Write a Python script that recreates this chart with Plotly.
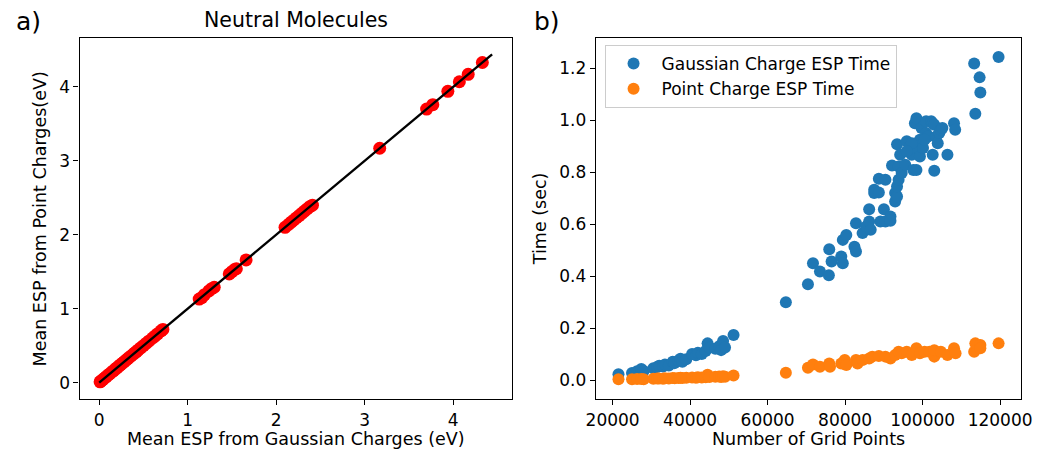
import plotly.graph_objects as go

# ---- Panel a) data ----
gauss_esp = [0.01, 0.02, 0.04, 0.06, 0.08, 0.10, 0.12, 0.14, 0.16, 0.18, 0.20, 0.22, 0.24,
             0.26, 0.28, 0.30, 0.32, 0.34, 0.36, 0.38, 0.40, 0.42, 0.44, 0.47, 0.50, 0.53,
             0.56, 0.60, 0.63, 0.66, 0.70, 0.72,
             1.13, 1.16, 1.19, 1.24, 1.27, 1.30,
             1.47, 1.50, 1.53, 1.55, 1.66,
             2.10, 2.14, 2.17, 2.20, 2.23, 2.26, 2.29, 2.32, 2.35, 2.38, 2.41,
             3.17, 3.70, 3.77, 3.94, 4.07, 4.17, 4.33]
point_esp = [0.01, 0.02, 0.04, 0.06, 0.08, 0.10, 0.12, 0.14, 0.16, 0.18, 0.20, 0.22, 0.24,
             0.26, 0.28, 0.30, 0.32, 0.34, 0.36, 0.38, 0.40, 0.42, 0.44, 0.47, 0.50, 0.53,
             0.56, 0.60, 0.63, 0.66, 0.70, 0.72,
             1.13, 1.15, 1.19, 1.24, 1.27, 1.29,
             1.47, 1.50, 1.53, 1.54, 1.66,
             2.10, 2.14, 2.17, 2.20, 2.23, 2.26, 2.29, 2.32, 2.35, 2.38, 2.40,
             3.17, 3.70, 3.76, 3.94, 4.07, 4.17, 4.33]
diag_line = [0.0, 4.44]

# ---- Panel b) data ----
gauss_grid = [21500, 25000, 26300, 27400, 28000, 30500, 31500, 32000, 33000, 33500, 34500,
              35500, 36000, 37000, 37500, 38000, 39000, 40500, 41500, 42000, 43000, 44000,
              44500, 45000, 46500, 47500, 48000, 48500, 49000, 51200,
              64700, 70400, 71700, 73500, 75900, 75800, 76500, 79000, 79400, 79400, 80300,
              82400, 82800, 82800, 84500, 85400, 86200, 86600, 86200, 87500, 87500, 88700,
              88700, 90400, 89100, 90400, 90000, 91700, 91700, 92100, 92900, 92900, 93400,
              93400, 93800, 93400, 93800, 94200, 94600, 95900, 95500, 96700, 97200, 97600,
              98400, 98000, 98000, 98400, 99300, 99700, 99300, 100100, 100900, 100900,
              101400, 102200, 102600, 102600, 103000, 103000, 103500, 103900, 104300,
              104700, 105100, 106400, 108100, 108400, 97200, 100500, 95900,
              113300, 113600, 114700, 114900, 119600]
gauss_time = [0.022, 0.027, 0.034, 0.042, 0.035, 0.045, 0.050, 0.055, 0.052, 0.060, 0.056,
              0.070, 0.065, 0.075, 0.082, 0.070, 0.080, 0.100, 0.095, 0.105, 0.100, 0.112,
              0.141, 0.125, 0.120, 0.130, 0.115, 0.150, 0.125, 0.173,
              0.299, 0.368, 0.449, 0.417, 0.503, 0.403, 0.456, 0.475, 0.449, 0.539, 0.558,
              0.513, 0.494, 0.603, 0.565, 0.590, 0.610, 0.578, 0.657, 0.732, 0.719, 0.721,
              0.774, 0.770, 0.610, 0.610, 0.657, 0.629, 0.613, 0.825, 0.719, 0.687, 0.706,
              0.744, 0.770, 0.907, 0.821, 0.866, 0.796, 0.918, 0.828, 0.898, 0.866, 0.808,
              0.808, 0.892, 0.988, 1.007, 0.924, 0.969, 0.860, 0.892, 0.995, 0.950,
              0.937, 0.995, 0.988, 0.866, 0.805, 0.982, 0.937, 0.911, 0.950,
              0.963, 0.969, 0.866, 0.988, 0.963, 0.911, 0.924, 0.880,
              1.217, 1.024, 1.164, 1.106, 1.242]

point_grid = [21500, 25000, 26300, 27400, 28000, 30500, 31500, 32000, 33000, 33500, 34500,
              35500, 36000, 37000, 37500, 38000, 39000, 40500, 41500, 42000, 43000, 44000,
              44500, 45000, 46500, 47500, 48000, 48500, 49000, 51200,
              64700, 70400, 71700, 73500, 75900, 76100, 79000, 79900, 80300, 82800, 83200,
              84500, 86200, 87000, 88700, 90400, 91700, 92900, 93800, 94600, 95900, 97200,
              98400, 99300, 100500, 101800, 103000, 103000, 104700, 106400, 108100, 108500,
              113300, 113600, 114900, 114900, 119600]
point_time = [0.003, 0.003, 0.004, 0.004, 0.003, 0.005, 0.006, 0.006, 0.005, 0.007, 0.006,
              0.008, 0.007, 0.008, 0.009, 0.008, 0.009, 0.010, 0.009, 0.011, 0.010, 0.011,
              0.020, 0.012, 0.013, 0.014, 0.012, 0.015, 0.013, 0.017,
              0.028, 0.047, 0.060, 0.051, 0.064, 0.051, 0.064, 0.077, 0.058, 0.077, 0.064,
              0.077, 0.083, 0.090, 0.092, 0.090, 0.083, 0.096, 0.109, 0.103, 0.109, 0.096,
              0.122, 0.103, 0.109, 0.109, 0.090, 0.115, 0.109, 0.096, 0.122, 0.103,
              0.109, 0.141, 0.135, 0.122, 0.141]

FONT = "DejaVu Sans"
BLUE = "#1f77b4"
ORANGE = "#ff7f0e"

fig = go.Figure()

fig.add_trace(go.Scatter(x=gauss_esp, y=point_esp, mode="markers",
                         marker=dict(color="red", size=13, line=dict(width=0)),
                         showlegend=False, xaxis="x", yaxis="y"))
fig.add_trace(go.Scatter(x=diag_line, y=diag_line, mode="lines",
                         line=dict(color="black", width=2.4),
                         showlegend=False, xaxis="x", yaxis="y"))

fig.add_trace(go.Scatter(x=gauss_grid, y=gauss_time, mode="markers",
                         name="Gaussian Charge ESP Time",
                         marker=dict(color=BLUE, size=12, line=dict(width=0)),
                         xaxis="x2", yaxis="y2"))
fig.add_trace(go.Scatter(x=point_grid, y=point_time, mode="markers",
                         name="Point Charge ESP Time",
                         marker=dict(color=ORANGE, size=12, line=dict(width=0)),
                         xaxis="x2", yaxis="y2"))

axis_common = dict(showline=True, linecolor="black", linewidth=1.2, mirror=True,
                   ticks="outside", ticklen=5, tickwidth=1.2, tickcolor="black",
                   showgrid=False, zeroline=False,
                   tickfont=dict(family=FONT, size=17, color="black"))

fig.update_layout(
    width=1050, height=450,
    margin=dict(l=0, r=0, t=0, b=0),
    paper_bgcolor="white", plot_bgcolor="white",
    font=dict(family=FONT, color="black"),
    xaxis=dict(domain=[0.0676, 0.4876], range=[-0.222, 4.662],
               tickvals=[0, 1, 2, 3, 4], anchor="y", **axis_common),
    yaxis=dict(domain=[0.1133, 0.9156], range=[-0.222, 4.662],
               tickvals=[0, 1, 2, 3, 4], anchor="x", **axis_common),
    xaxis2=dict(domain=[0.5692, 0.9826], range=[15626, 125411],
                tickvals=[20000, 40000, 60000, 80000, 100000, 120000],
                ticktext=["20000", "40000", "60000", "80000", "100000", "120000"],
                anchor="y2", **axis_common),
    yaxis2=dict(domain=[0.1133, 0.9156], range=[-0.073, 1.3155],
                tickvals=[0, 0.2, 0.4, 0.6, 0.8, 1.0, 1.2],
                ticktext=["0.0", "0.2", "0.4", "0.6", "0.8", "1.0", "1.2"],
                anchor="x2", **axis_common),
    legend=dict(x=0.5778, y=0.9, xanchor="left", yanchor="top",
                bgcolor="rgba(255,255,255,0.8)", bordercolor="#cccccc", borderwidth=1,
                font=dict(family=FONT, size=17, color="black"),
                itemwidth=46, tracegroupgap=0),
)

annots = [
    dict(text="a)", x=4, y=22, size=25),
    dict(text="b)", x=533, y=22, size=25),
]
for a in annots:
    fig.add_annotation(text=a["text"], x=a["x"] / 1050, y=1 - a["y"] / 450,
                       xref="paper", yref="paper", xanchor="left", yanchor="middle",
                       showarrow=False, font=dict(family=FONT, size=a["size"], color="black"))

fig.add_annotation(text="Neutral Molecules", x=(71 + 512) / 2 / 1050, y=1 - 20 / 450,
                   xref="paper", yref="paper", xanchor="center", yanchor="middle",
                   showarrow=False, font=dict(family=FONT, size=20.5, color="black"))
fig.add_annotation(text="Mean ESP from Gaussian Charges (eV)", x=(71 + 512) / 2 / 1050,
                   y=1 - 439 / 450, xref="paper", yref="paper", xanchor="center",
                   yanchor="middle", showarrow=False,
                   font=dict(family=FONT, size=17.5, color="black"))
fig.add_annotation(text="Number of Grid Points", x=(597.7 + 1031.7) / 2 / 1050,
                   y=1 - 439 / 450, xref="paper", yref="paper", xanchor="center",
                   yanchor="middle", showarrow=False,
                   font=dict(family=FONT, size=17.5, color="black"))
fig.add_annotation(text="Mean ESP from Point Charges(eV)", x=31 / 1050,
                   y=1 - 219 / 450, xref="paper", yref="paper", xanchor="center",
                   yanchor="middle", textangle=-90, showarrow=False,
                   font=dict(family=FONT, size=17.5, color="black"))
fig.add_annotation(text="Time (sec)", x=541 / 1050,
                   y=1 - 219 / 450, xref="paper", yref="paper", xanchor="center",
                   yanchor="middle", textangle=-90, showarrow=False,
                   font=dict(family=FONT, size=17.5, color="black"))

fig.write_html("out.html")
